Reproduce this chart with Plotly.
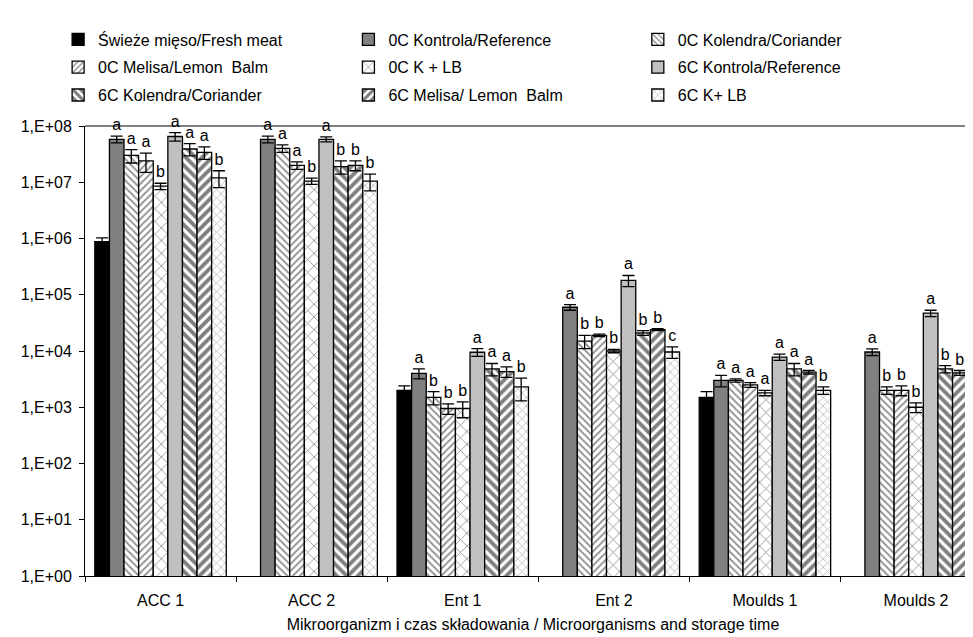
import plotly.graph_objects as go

categories = ["ACC 1", "ACC 2", "Ent 1", "Ent 2", "Moulds 1", "Moulds 2"]

series_names = [
    "Świeże mięso/Fresh meat",
    "0C Kontrola/Reference",
    "0C Kolendra/Coriander",
    "0C Melisa/Lemon  Balm",
    "0C K + LB",
    "6C Kontrola/Reference",
    "6C Kolendra/Coriander",
    "6C Melisa/ Lemon  Balm",
    "6C K+ LB",
]

fresh_meat = [8.8e5, None, 2.0e3, None, 1.5e3, None]
c0_reference = [5.8e7, 5.8e7, 4.0e3, 6.0e4, 3.0e3, 9.6e3]
c0_coriander = [3.0e7, 4.0e7, 1.5e3, 1.5e4, 3.0e3, 2.0e3]
c0_lemon_balm = [2.4e7, 2.0e7, 9.5e2, 1.9e4, 2.5e3, 2.0e3]
c0_k_lb = [8.5e6, 1.05e7, 9.5e2, 1.0e4, 1.8e3, 1.0e3]
c6_reference = [6.5e7, 5.8e7, 9.5e3, 1.8e5, 7.8e3, 4.7e4]
c6_coriander = [3.9e7, 1.9e7, 4.8e3, 2.1e4, 4.8e3, 4.8e3]
c6_lemon_balm = [3.4e7, 2.0e7, 4.3e3, 2.4e4, 4.2e3, 4.1e3]
c6_k_lb = [1.2e7, 1.05e7, 2.3e3, 9.6e3, 2.0e3, 2.4e3]

fresh_meat_err = [1.5e5, None, 4.0e2, None, 4.0e2, None]
c0_reference_err = [8e6, 8e6, 8e2, 7e3, 7e2, 1.3e3]
c0_coriander_err = [8e6, 6e6, 4e2, 4e3, 2e2, 3e2]
c0_lemon_balm_err = [9e6, 3e6, 2e2, 1e3, 2.5e2, 4e2]
c0_k_lb_err = [1.1e6, 1.3e6, 3e2, 7e2, 2e2, 2e2]
c6_reference_err = [1.1e7, 6e6, 1.5e3, 4e4, 1e3, 6e3]
c6_coriander_err = [9.5e6, 5e6, 1.2e3, 2e3, 1.2e3, 7e2]
c6_lemon_balm_err = [8.5e6, 4e6, 9e2, 1e3, 3e2, 4e2]
c6_k_lb_err = [4e6, 3.5e6, 1e3, 2.2e3, 3e2, 5e2]

fresh_meat_letters = ["", "", "", "", "", ""]
c0_reference_letters = ["a", "a", "a", "a", "a", "a"]
c0_coriander_letters = ["a", "a", "b", "b", "a", "b"]
c0_lemon_balm_letters = ["a", "a", "b", "b", "a", "b"]
c0_k_lb_letters = ["b", "b", "b", "b", "a", "b"]
c6_reference_letters = ["a", "a", "a", "a", "a", "a"]
c6_coriander_letters = ["a", "b", "a", "b", "a", "b"]
c6_lemon_balm_letters = ["a", "b", "a", "b", "a", "b"]
c6_k_lb_letters = ["b", "b", "b", "c", "b", "b"]

y_tick_vals = [1, 10, 100, 1e3, 1e4, 1e5, 1e6, 1e7, 1e8]
y_tick_text = ["1,E+00", "1,E+01", "1,E+02", "1,E+03", "1,E+04", "1,E+05", "1,E+06", "1,E+07", "1,E+08"]

x_title = "Mikroorganizm i czas składowania / Microorganisms and storage time"

values = [fresh_meat, c0_reference, c0_coriander, c0_lemon_balm, c0_k_lb,
          c6_reference, c6_coriander, c6_lemon_balm, c6_k_lb]
errors = [fresh_meat_err, c0_reference_err, c0_coriander_err, c0_lemon_balm_err, c0_k_lb_err,
          c6_reference_err, c6_coriander_err, c6_lemon_balm_err, c6_k_lb_err]
letters = [fresh_meat_letters, c0_reference_letters, c0_coriander_letters, c0_lemon_balm_letters,
           c0_k_lb_letters, c6_reference_letters, c6_coriander_letters, c6_lemon_balm_letters,
           c6_k_lb_letters]

styles = [
    ("#000000", None),
    ("#808080", None),
    ("#ffffff", dict(shape="\\", size=5, solidity=0.35, fgcolor="#202020", fillmode="overlay")),
    ("#ffffff", dict(shape="/", size=5, solidity=0.35, fgcolor="#202020", fillmode="overlay")),
    ("#ffffff", dict(shape="x", size=9, solidity=0.18, fgcolor="#202020", fillmode="overlay")),
    ("#c0c0c0", None),
    ("#ffffff", dict(shape="\\", size=7, solidity=0.55, fgcolor="#000000", fillmode="overlay")),
    ("#ffffff", dict(shape="/", size=7, solidity=0.55, fgcolor="#000000", fillmode="overlay")),
    ("#ffffff", dict(shape="x", size=6, solidity=0.25, fgcolor="#707070", fillmode="overlay")),
]

legend_of = ["legend", "legend2", "legend3"]

FONT = "Liberation Sans"
FS = 16
fig = go.Figure()

for i, name in enumerate(series_names):
    color, pattern = styles[i]
    marker = dict(color=color, line=dict(color="#000000", width=1.3))
    if pattern:
        marker["pattern"] = pattern
    fig.add_trace(go.Bar(
        x=categories, y=values[i], name=name,
        offsetgroup=str(i), legendgroup=name,
        legend=legend_of[i % 3],
        marker=marker,
        error_y=dict(type="data", array=errors[i], visible=True,
                     color="#000000", thickness=1.3, width=6),
    ))

# letters: invisible bars reaching the top of each error bar, labelled outside
for i, name in enumerate(series_names):
    tops = [None if v is None else v + e for v, e in zip(values[i], errors[i])]
    fig.add_trace(go.Bar(
        x=categories, y=tops, offsetgroup=str(i), showlegend=False,
        marker=dict(color="rgba(0,0,0,0)", line=dict(width=0)),
        text=letters[i], textposition="outside", constraintext="none",
        textfont=dict(family=FONT, size=FS, color="#000000"),
        cliponaxis=False, hoverinfo="skip",
    ))

legend_common = dict(
    orientation="v", yanchor="top", xanchor="left",
    traceorder="grouped", tracegroupgap=4,
    font=dict(family=FONT, size=FS, color="#000000"),
    bgcolor="rgba(0,0,0,0)", itemclick=False,
)

fig.update_layout(
    width=973, height=637,
    barmode="group", bargap=0.13, bargroupgap=0,
    plot_bgcolor="#ffffff", paper_bgcolor="#ffffff",
    margin=dict(l=77, r=0, t=118, b=69),
    font=dict(family=FONT, size=FS, color="#000000"),
    legend=dict(x=-0.03, y=1.23, **legend_common),
    legend2=dict(x=0.294, y=1.23, **legend_common),
    legend3=dict(x=0.617, y=1.23, **legend_common),
    xaxis=dict(
        type="category", range=[-0.5, 5.43],
        showline=True, linecolor="#000000", linewidth=1,
        ticks="outside", tickson="boundaries", ticklen=5, tickcolor="#000000",
        showgrid=False, ticklabelstandoff=10,
        title=dict(text=x_title, font=dict(family=FONT, size=16), standoff=10),
        tickfont=dict(family=FONT, size=FS),
    ),
    yaxis=dict(
        type="log", range=[0, 8],
        tickvals=y_tick_vals, ticktext=y_tick_text,
        showline=True, linecolor="#000000", linewidth=1,
        ticks="outside", ticklen=5, tickcolor="#000000",
        showgrid=False, zeroline=False, ticklabelstandoff=4,
        tickfont=dict(family=FONT, size=FS),
    ),
    shapes=[dict(type="line", xref="paper", yref="paper", x0=0, x1=1, y0=1, y1=1,
                 line=dict(color="#808080", width=2), layer="below")],
    showlegend=True,
)

fig.write_html("out.html")
